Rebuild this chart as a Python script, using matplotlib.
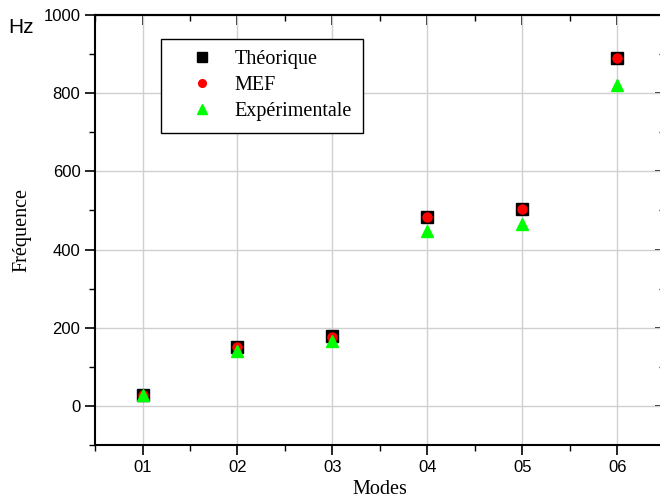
import matplotlib.pyplot as plt
from matplotlib.ticker import MultipleLocator

modes = [1, 2, 3, 4, 5, 6]
mode_labels = ["01", "02", "03", "04", "05", "06"]
theorique = [29, 151, 178, 482, 503, 889]
mef = [29, 150, 177, 482, 503, 889]
experimentale = [27, 141, 167, 448, 466, 820]

fig = plt.figure(figsize=(6.6, 5), dpi=100)
ax = fig.add_axes([0.144, 0.11, 0.863, 0.86])

ax.plot(modes, theorique, 's', color='black', markersize=9, label='Théorique')
ax.plot(modes, mef, 'o', color='red', markersize=6.5, label='MEF')
ax.plot(modes, experimentale, '^', color='#00ff00', markersize=9, label='Expérimentale')

ax.set_xlim(0.5, 6.5)
ax.set_ylim(-100, 1000)
ax.set_xticks(modes)
ax.set_xticklabels(mode_labels)
ax.xaxis.set_minor_locator(MultipleLocator(0.5))
ax.yaxis.set_major_locator(MultipleLocator(200))
ax.yaxis.set_minor_locator(MultipleLocator(100))
ax.grid(True, which='major', color='#d0d0d0', linewidth=1)
ax.set_axisbelow(True)

ax.tick_params(axis='both', which='major', labelsize=12, length=7, width=1.2,
               direction='out', top=False, right=False)
ax.tick_params(axis='both', which='minor', length=4, width=1, direction='out',
               top=False, right=False)
for lab in ax.get_xticklabels() + ax.get_yticklabels():
    lab.set_fontfamily('Liberation Sans')

# inward ticks on top and right
axt = ax.secondary_xaxis('top')
axt.set_xticks(modes)
axt.set_xticklabels([])
axt.xaxis.set_minor_locator(MultipleLocator(0.5))
axt.tick_params(which='major', direction='in', length=7, width=1.2)
axt.tick_params(which='minor', direction='in', length=4, width=1)
axr = ax.secondary_yaxis('right')
axr.yaxis.set_major_locator(MultipleLocator(200))
axr.yaxis.set_minor_locator(MultipleLocator(100))
axr.set_yticklabels([])
axr.tick_params(which='major', direction='in', length=7, width=1.2)
axr.tick_params(which='minor', direction='in', length=4, width=1)

for s in ax.spines.values():
    s.set_linewidth(1.5)
axt.spines['top'].set_linewidth(1.5)

ax.set_xlabel('Modes', fontfamily='Liberation Serif', fontsize=14.5, labelpad=4)
ax.set_ylabel('Fréquence', fontfamily='Liberation Serif', fontsize=14.5, labelpad=9)
fig.text(0.012, 0.934, 'Hz', fontfamily='Liberation Sans', fontsize=15)

leg = fig.legend(*ax.get_legend_handles_labels(), loc='upper left',
                 bbox_to_anchor=(0.244, 0.922), borderaxespad=0, numpoints=1,
                 prop={'family': 'Liberation Serif', 'size': 14.5}, fancybox=False,
                 edgecolor='black', framealpha=1, borderpad=0.55, labelspacing=0.35,
                 handlelength=3.0, handletextpad=0.1, markerscale=0.85)
leg.get_frame().set_linewidth(1)

fig.savefig('out.png', dpi=100)
